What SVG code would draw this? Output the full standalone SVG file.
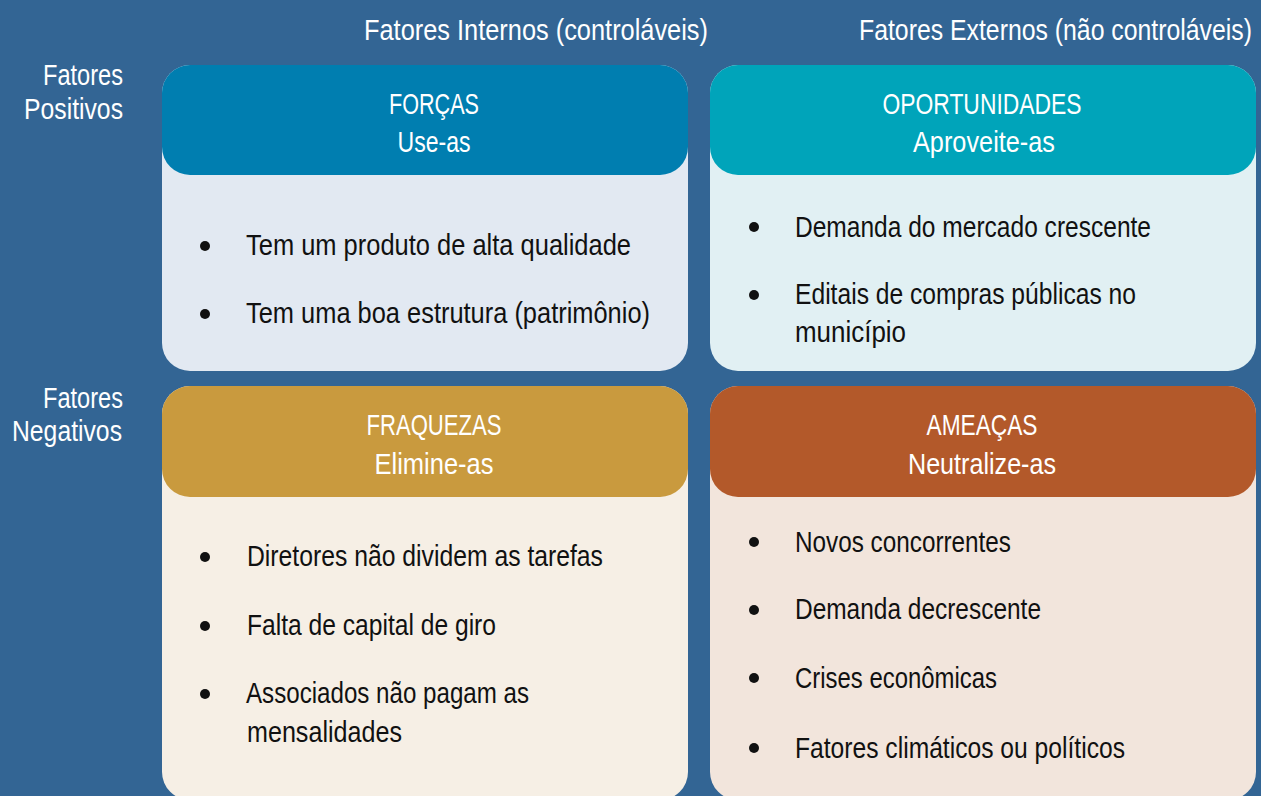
<svg xmlns="http://www.w3.org/2000/svg" width="1261" height="796" viewBox="0 0 1261 796">
<style>
text { font-family: "Liberation Sans", Arial, sans-serif; }
.lbl { fill: #ffffff; font-size: 30px; }
.hd { fill: #ffffff; font-size: 30px; text-anchor: middle; }
.it { fill: #111111; font-size: 29px; }
.bul { fill: #111111; }
</style>
<rect x="0" y="0" width="1261" height="796" fill="#336594"/>

<g id="axis-labels">
<text class="lbl" x="364" y="40" textLength="344" lengthAdjust="spacingAndGlyphs">Fatores Internos (controláveis)</text>
<text class="lbl" x="1252" y="40" text-anchor="end" textLength="393" lengthAdjust="spacingAndGlyphs">Fatores Externos (não controláveis)</text>
<text class="lbl" x="43" y="85" textLength="80" lengthAdjust="spacingAndGlyphs">Fatores</text>
<text class="lbl" x="24" y="119" textLength="99" lengthAdjust="spacingAndGlyphs">Positivos</text>
<text class="lbl" x="43" y="408" textLength="80" lengthAdjust="spacingAndGlyphs">Fatores</text>
<text class="lbl" x="12" y="441" textLength="110" lengthAdjust="spacingAndGlyphs">Negativos</text>
</g>

<g id="forcas">
<rect x="162" y="65" width="526" height="306" rx="28" fill="#e2e9f2"/>
<rect x="162" y="65" width="526" height="110" rx="28" fill="#007eb0"/>
<text class="hd" x="434" y="114" textLength="90" lengthAdjust="spacingAndGlyphs">FORÇAS</text>
<text class="hd" x="434" y="152" textLength="73" lengthAdjust="spacingAndGlyphs">Use-as</text>
<circle class="bul" cx="205" cy="246" r="5"/>
<text class="it" x="246" y="255" textLength="385" lengthAdjust="spacingAndGlyphs">Tem um produto de alta qualidade</text>
<circle class="bul" cx="205" cy="314" r="5"/>
<text class="it" x="246" y="323" textLength="404" lengthAdjust="spacingAndGlyphs">Tem uma boa estrutura (patrimônio)</text>
</g>

<g id="oportunidades">
<rect x="710" y="65" width="546" height="306" rx="28" fill="#e1f0f3"/>
<rect x="710" y="65" width="546" height="110" rx="28" fill="#00a4ba"/>
<text class="hd" x="982" y="114" textLength="199" lengthAdjust="spacingAndGlyphs">OPORTUNIDADES</text>
<text class="hd" x="984" y="152" textLength="142" lengthAdjust="spacingAndGlyphs">Aproveite-as</text>
<circle class="bul" cx="754" cy="227" r="5"/>
<text class="it" x="795" y="237" textLength="356" lengthAdjust="spacingAndGlyphs">Demanda do mercado crescente</text>
<circle class="bul" cx="754" cy="295" r="5"/>
<text class="it" x="795" y="304" textLength="341" lengthAdjust="spacingAndGlyphs">Editais de compras públicas no</text>
<text class="it" x="795" y="342" textLength="111" lengthAdjust="spacingAndGlyphs">município</text>
</g>

<g id="fraquezas">
<rect x="162" y="386" width="526" height="414" rx="28" fill="#f6efe5"/>
<rect x="162" y="386" width="526" height="111" rx="28" fill="#c99a3e"/>
<text class="hd" x="434" y="435" textLength="135" lengthAdjust="spacingAndGlyphs">FRAQUEZAS</text>
<text class="hd" x="434" y="474" textLength="119" lengthAdjust="spacingAndGlyphs">Elimine-as</text>
<circle class="bul" cx="205" cy="557" r="5"/>
<text class="it" x="247" y="566" textLength="356" lengthAdjust="spacingAndGlyphs">Diretores não dividem as tarefas</text>
<circle class="bul" cx="205" cy="626" r="5"/>
<text class="it" x="247" y="635" textLength="249" lengthAdjust="spacingAndGlyphs">Falta de capital de giro</text>
<circle class="bul" cx="205" cy="694" r="5"/>
<text class="it" x="246" y="703" textLength="283" lengthAdjust="spacingAndGlyphs">Associados não pagam as</text>
<text class="it" x="247" y="742" textLength="155" lengthAdjust="spacingAndGlyphs">mensalidades</text>
</g>

<g id="ameacas">
<rect x="710" y="386" width="546" height="414" rx="28" fill="#f2e5dc"/>
<rect x="710" y="386" width="546" height="111" rx="28" fill="#b3592a"/>
<text class="hd" x="982" y="435" textLength="111" lengthAdjust="spacingAndGlyphs">AMEAÇAS</text>
<text class="hd" x="982" y="474" textLength="148" lengthAdjust="spacingAndGlyphs">Neutralize-as</text>
<circle class="bul" cx="754" cy="542" r="5"/>
<text class="it" x="795" y="552" textLength="216" lengthAdjust="spacingAndGlyphs">Novos concorrentes</text>
<circle class="bul" cx="754" cy="610" r="5"/>
<text class="it" x="795" y="619" textLength="246" lengthAdjust="spacingAndGlyphs">Demanda decrescente</text>
<circle class="bul" cx="754" cy="678" r="5"/>
<text class="it" x="795" y="688" textLength="202" lengthAdjust="spacingAndGlyphs">Crises econômicas</text>
<circle class="bul" cx="754" cy="748" r="5"/>
<text class="it" x="795" y="758" textLength="330" lengthAdjust="spacingAndGlyphs">Fatores climáticos ou políticos</text>
</g>
</svg>
